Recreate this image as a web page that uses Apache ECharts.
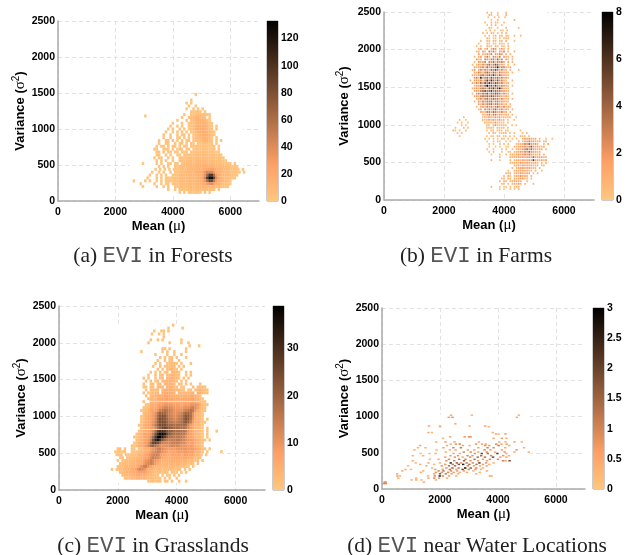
<!DOCTYPE html>
<html><head><meta charset="utf-8">
<script src="https://cdn.jsdelivr.net/npm/echarts@6/dist/echarts.min.js"></script>
<style>html,body{margin:0;padding:0;background:#fff}#c{width:632px;height:555px}</style>
</head><body><div id="c"></div>
<script>
// Each row: [variance, first mean, count, count, ...] with a fixed mean step.
const forestStep = 80;
const forestRows = [
[1480,4800,2],[1400,4640,2],[1360,4480,2,0,2],[1320,4560,3,0,0,2],[1280,4480,2,0,0,3,0,3,0,2],
[1240,4640,2,4,3,5,3,0,2],[1200,4400,2,0,0,2,4,6,8,8,7,6,4,2],
[1180,3040,1],
[1160,4320,2,0,0,2,6,10,12,12,11,8,4,0,2],
[1120,4160,2,0,0,0,3,0,5,9,13,14,14,13,10,5,2],
[1080,4000,2,0,0,0,2,0,0,3,3,6,12,15,16,16,15,12,7,3],
[1040,3920,2,0,0,2,0,3,0,0,3,2,7,13,16,18,18,16,13,7,3,0,2],
[1000,3840,2,0,3,0,0,3,0,3,0,2,3,8,14,17,18,18,16,13,7,2,0,2],
[960,3760,2,0,0,2,0,3,0,4,0,3,0,3,2,9,15,17,18,17,15,11,5,2],
[920,3680,2,0,0,2,0,0,3,0,2,3,0,3,0,2,3,9,14,16,17,15,12,5,2],
[880,3680,3,0,0,3,0,0,3,3,0,4,0,3,0,2,4,8,13,15,15,13,8,3,0,2],
[840,3520,2,0,0,3,3,0,4,0,2,0,3,0,3,4,0,2,3,3,7,11,13,12,9,4,0,3,0,3],
[800,3520,2,0,0,4,3,0,0,4,0,2,3,0,3,0,4,3,0,2,4,6,8,7,5,3,0,3],
[760,3440,2,0,3,4,0,4,0,5,3,0,4,0,4,3,0,2,4,3,3,4,4,3,3,3,4,3,0,2],
[720,3360,3,2,0,0,4,3,4,0,3,0,3,4,2,0,3,4,0,3,4,5,5,6,5,4,4,3,3,0,2],
[680,3440,3,4,0,4,0,4,3,0,3,3,0,3,2,4,0,5,5,6,6,7,7,7,6,5,4,3,2,2],
[640,3440,2,3,0,0,4,0,3,0,0,2,3,0,4,5,5,6,6,7,8,8,8,8,7,7,6,5,4,3,2],
[600,3360,2,0,2,3,0,0,3,0,2,0,0,3,4,5,6,7,7,8,8,9,9,9,9,8,8,7,6,5,4,3,2],
[560,3440,3,0,2,0,3,0,0,3,0,0,4,5,6,7,8,8,9,9,10,10,10,10,9,9,8,8,7,6,5,3,2],
[520,2960,1,0,0,0,0,0,2,0,3,0,0,2,3,0,2,4,0,5,6,7,8,9,9,10,11,12,12,12,11,11,10,9,8,7,6,5,4,3,2,0,2],
[480,3520,2,0,3,0,2,0,0,3,4,6,7,8,9,10,11,12,13,14,15,16,16,16,16,15,13,12,11,10,9,8,6,5,4,3,2],
[440,3400,2,0,2,0,3,0,2,0,3,3,3,5,7,8,9,10,11,12,13,14,16,18,22,24,26,24,20,16,13,11,10,8,7,5,4,3,2,0,2],
[400,3280,2,0,0,2,0,2,0,0,3,0,3,4,5,8,9,10,11,12,13,15,18,20,24,34,44,46,44,32,22,16,13,11,10,8,6,5,4,3,2,0,2],
[360,3200,2,0,0,2,0,3,0,2,0,0,3,4,6,8,9,10,10,11,11,12,12,14,16,22,36,66,100,100,62,32,20,14,12,10,8,6,4,3,2],
[320,3120,2,0,0,0,2,0,2,0,3,2,3,3,5,7,9,10,10,11,11,11,12,12,15,18,26,46,96,133,128,90,40,22,15,11,8,6,4,3,2],
[280,2640,2,0,0,0,0,2,0,2,0,0,2,0,3,0,3,3,2,3,4,6,8,9,10,10,10,11,11,12,14,16,22,34,60,90,86,54,30,18,13,10,8,6,2],
[240,2880,1,0,0,0,0,0,2,0,0,2,0,2,3,0,3,4,4,6,7,8,9,9,10,10,11,12,13,16,22,30,38,38,28,20,14,10,7,5,3,2],
[200,2960,2,0,0,0,0,0,2,0,0,2,0,3,0,0,3,5,6,7,7,8,8,9,9,10,10,11,12,13,14,13,12,10,8,6,4,3,2,2],
[160,3840,2,0,0,2,0,3,3,4,5,5,6,7,7,8,8,8,9,8,7,5,3,0,2],
[120,4240,2,0,3,0,3,3,2,4,3,3,0,3,0,2]
];
const farmStep = 70;
const farmRows = [
[2490,3440,.5,0,1,0,0,.4,0,0,0,1],[2460,3510,1,.5,0,0,.4,0,0,0,1],[2430,3475,.4,0,0,1,0,.5,0,0,.4],[2395,3580,.5,0,0,1,0,0,0,0,0,0,0,1],
[2360,3370,.5,0,0,1,0,.4,.5,0,0,.6],[2325,3440,.4,0,.6,0,1,0,0,.5],[2290,3510,1,.4,0,0,.5,0,0,0,.6,0,0,0,0,0,.5],
[2255,3405,.4,0,1,0,.5,0,0,1,.4,0,.8],[2220,3300,.5,0,.4,0,1,.4,0,.6,0,.5,0,.7],[2185,3370,.4,0,.6,0,.4,1,0,.5,1,0,.6,.4,0,0,.7,0,0,.4],
[2150,3440,1,.4,0,.5,.3,0,.8,0,.5,1,.4],[2115,3230,.5,0,0,.4,.6,0,1,.5,0,.4,.7,0,1,0,0,0,.5],[2080,3160,.6,0,0,0,1,.4,0,.8,.5,0,1,.6,.4,0,.5],
[2045,3090,.8,0,.4,0,0,1,.5,.6,0,1,.5,0,.8,.4,0,.6],[2010,3160,1,2,0,.8,2,0,1,3,2,0,1,2,1,0,.8],
[1975,3090,1,1,0,2,.8,0,3,1.5,3,1,0,2,1,3,0,1,0,0,1],[1940,3160,2,0,1.5,.8,2,1,3,0,2,1,3,2,0,1.5,0,1],
[1905,3020,1,0,.8,2,0,1.5,3,1,0,3,2,1,3,0,2,1,.8,0,1],[1870,3090,2,.8,1.5,0,3,2,1,3,3,1,4,1.5,3,0,2,.8,0,1],
[1835,3020,.8,0,2,1,1.5,3,0,3,2,4,1,3,2,3,1.5,0,1.5,0,1],[1800,2950,1,0,.8,2,1,3,1.5,3,4,2,3,5,4,1.5,2,1,0,.8,0,0,1],
[1765,3020,2,1,1.5,2,3,1,4,2,3,3,4,7,2,3,3,1,.8,1.5],[1730,2950,.8,2,0,1.5,3,1,3,2,1.5,4,3,5,3,1.5,3,1,1.5,0,.8,0,0,0,1],
[1695,3020,1.5,1,3,2,1,3,4,3,2,4,3,1.5,3,2,1.5,1.5,.8,0,1],[1660,2950,.8,1.5,.8,2,3,4,2,3,4,3,6,3,2,4,2,1.5,1,.8],
[1625,3020,2,3,1,7,2,3,4,2,5,3,3,4,2,3,1.5,2,.8],[1590,2880,1,0,1.5,2,1.5,3,1,3,6,3,7,4,3,5,2,3,1.5,.8,0,0,1],
[1555,2950,1.5,.8,3,1,4,2,5,3,6,4,3,5,4,2,3,1,.8,1],[1520,3020,.8,2,1.5,3,2,4,8,4,5,3,6,3,2,3,2,1.5,.8,0,1],
[1485,2950,1,1.5,2,1,3,4,3,2,5,4,6,3,5,7,3,1.5,1.5,1],[1450,3020,1.5,2,1,3,4,5,3,4,6,3,4,3,3,2,2,1,.8],
[1415,2950,.8,0,2,3,2,4,3,5,2,4,3,5,4,3,1.5,3,1.5,.8,0,1],[1380,3020,1.5,2,1,3,4,3,4,3,5,4,3,3,2,1.5,.8,2,.8],
[1345,3090,1,1.5,3,1.5,3,4,2,3,4,3,3,1.5,3,1.5,.8,1,0,1],[1310,3020,.8,0,2,1,3,2,3,3,4,1.5,3,3,1.5,2,1.5,.8,1],
[1275,3160,2,1,3,1.5,3,3,4,1.5,3,3,1.5,2,.8,1.5,0,1],[1240,3090,.8,0,1.5,2,1,3,2,3,1.5,3,4,2,1.5,3,1,1.5,.8],
[1205,3160,1,2,0,3,1.5,3,1.5,3,4,1.5,2,3,1,2,.8,0,1],[1170,3230,1.5,1,.8,3,3,1.5,4,3,1.5,1.5,3,1,1.5,0,.8],
[1135,3300,1.5,.8,2,3,1,3,3,1,2,1.5,.8,1.5,.8,0,1],[1100,2660,.5,0,0,0,0,0,0,0,0,.5,1,.4,2,1,.7,2,1,2,.5,1,.6,.4,.7,0,0,.5],
[1065,2520,.6,0,0,.5,0,0,0,0,0,0,0,1,.4,.8,2,.5,2,.7,.8,2,.4,.7,0,.5,0,0,.6],
[1030,2450,.5,0,.6,0,0,.5,0,0,0,0,0,0,0,1,.4,.8,1,.4,2,.5,.8,.4,.6,0,.4],
[995,2590,.6,0,.5,0,0,0,0,0,0,0,0,0,.5,.8,0,.4,2,.7,.4,1,.5,.4,0,0,.6,0,.5],
[960,2380,.5,0,0,0,.5,0,.6,0,0,0,0,0,0,0,0,.5,.4,.7,.4,0,.8,.5,.4,.7,0,.5],
[925,2310,1,.5,0,.6,0,0,.5,0,0,0,0,0,0,0,0,0,.4,0,.5,.7,0,.4,.8,.5,0,.4,.5,0,0,0,0,0,.5],
[890,2450,.6,0,.5,0,0,0,0,0,0,0,0,0,0,0,0,.4,0,.7,.4,0,.5,.4,.8,.4,0,.5,0,.4,0,0,0,.7,0,.5],
[850,2520,.5,0,0,0,0,0,0,0,0,0,0,0,0,.5,0,.4,.5,0,.4,.8,0,.4,.5,0,.4,0,.5,0,0,.7,.5,.4,0,.5],
[815,3370,.5,0,.4,0,.4,0,.5,0,.8,.4,0,.5,0,.4,0,.4,0,0,1,2,1.5,2,1.5,1,1.5,0,.8,0,0,.5,0,0,.7],
[780,3440,.4,0,0,.5,0,.4,.5,0,0,.5,0,.4,0,0,0,1,0,1,2,2,3,1.5,2,1,.8,1,0,.8,1.5],
[745,3510,.5,0,.4,0,0,.5,0,.4,0,.5,0,0,0,.8,1,.8,1.5,3,2,4,2,1.5,2,.8,0,0,1,0,1.5],
[710,3510,.4,0,0,.5,0,.4,0,0,.5,.4,0,0,1,.8,1.5,1.5,2,3,2,3,5,2,1.5,1.5,.8,1,1.5],
[675,3440,.5,0,0,.5,0,0,0,.4,0,.5,0,0,.8,0,1,1.5,.8,2,3,4,2,4,2,1.5,.8,1.5,.8,0,1],
[640,3510,.4,0,.5,0,0,0,.5,0,0,.4,.5,0,.8,1.5,1.5,2,1.5,3,2,4,2,2,1.5,.8,1],
[605,3580,.5,0,0,0,.4,0,0,.5,0,.8,1.5,.8,1.5,2,1,2,3,2,3,2,1.5,1,.8,1.5,0,1],
[570,3860,1,0,0,0,0,1,.8,1.5,1,1.5,1.5,2,1.5,2,2,1.5,4,1.5,1.5,1.5,1.5,.8,1.5],
[530,3580,1,0,0,0,.5,0,0,0,0,1,0,.8,1.5,1.5,1,2,1.5,1.5,2,1.5,6,1.5,1.5,1,1.5,.8,2],
[495,4210,.8,1,1.5,1.5,.8,2,1.5,1.5,2,1.5,1,1.5,1.5,.8,0,1,0,1.5],
[460,4350,1,1.5,1.5,1,2,1.5,1.5,1,1.5,.8,.8,1,0,.8,1],
[425,4280,1,0,1,1.5,1.5,2,1,1.5,1.5,1,.8,1,0,1],
[390,4140,.8,0,0,1,1.5,1,1.5,2,1.5,1.5,1,.8,0,1,0,0,.8],
[355,4070,1,.8,1,0,1,1.5,1.5,2,1.5,1,1.5,1,0,.8,0,1],
[320,4000,1,0,1,.8,0,1,1.5,1.5,2,1,1.5,1,0,1],
[285,3930,.8,1,0,1,.8,0,1.5,1,1.5,1.5,2,1,.8,0,1],
[250,3860,1,0,1.5,1,0,.8,1,1.5,1.5,1,.8,0,0,.8],
[215,3930,.8,1,0,1,0,.8,1.5,1,2,.8,0,1,0,0,0,1],
[175,3580,1,0,0,0,.5,0,.4,.5,0,.5,0,.4,.8,.5],[145,3860,.5,0,.4,0,0,.5,0,.4,0,.7]
];
const grassStep = 80;
const grassRows = [
[2240,3880,1],[2200,3720,1,0,0,0,0,0,1],[2160,3240,1,0,0,1,1,0,1],[2120,3160,1,0,0,1,0,1],[2080,3560,1],
[2040,3120,1,0,0,1,0,1,0,0,0,0,0,0,0,1],[2000,3040,1,0,0,0,0,0,0,0,0,1,0,0,0,0,1,0,0,1],
[1960,4440,1,0,0,0,1],[1920,3520,1,1,0,1,0,0,0,0,0,0,1],[1880,2800,1,0,0,0,0,0,0,0,0,1,0,1,0,0,1,0,0,0,0,1],
[1840,3280,1,0,0,0,0,1,0,0,1,0,0,1],[1800,3440,1,0,1,0,1,2,0,1,0,0,0,1],[1760,3360,1,0,0,2,0,2,1,0,0,1],
[1720,3280,1,0,1,0,0,1,2,3,3,1,0,1,0,0,0,1],[1680,3200,1,0,0,2,0,1,2,2,3,2,0,1,0,1],
[1640,3360,2,0,1,0,2,3,4,2,1,0,1],[1600,3120,1,0,1,0,2,0,1,2,0,3,4,3,1,0,0,1,0,1],
[1560,3040,1,0,0,2,0,1,3,0,2,3,4,4,2,1,0,0,1,0,1],[1520,2880,1,0,1,0,0,2,0,2,3,0,3,4,5,4,3,1,0,1,0,1],
[1480,2960,1,0,2,0,1,3,0,3,3,4,5,4,3,2,0,1,0,1],[1440,2880,1,0,0,1,2,0,2,3,0,4,4,5,4,3,0,2,1,0,1,0,1,0,0,0,1],
[1400,2880,1,1,0,2,2,0,3,3,4,0,5,5,4,3,2,0,1,1,0,0,0,2,0,2,2,3,1],
[1360,2960,1,0,2,2,3,3,0,4,5,5,6,5,4,3,3,2,2,0,1,2,0,3,3,4,3,2,1],
[1320,2880,1,0,2,1,2,3,3,0,5,5,6,6,5,4,0,3,3,2,2,3,3,4,0,5,4,2,1,1],
[1280,2960,2,0,2,3,4,5,5,6,7,7,6,5,5,4,4,5,5,5,5,6,6,5,3,1],
[1240,3040,3,3,3,4,5,6,7,7,8,7,7,6,6,6,6,6,6,7,7,7,6,4,2,1],
[1200,2880,1,0,0,4,4,5,6,7,7,8,8,7,7,6,6,6,6,7,7,7,8,8,7,5,3,1,1],
[1160,2960,1,2,5,5,6,7,8,9,10,10,10,9,8,8,8,7,8,8,9,10,10,11,9,6,3,1,1],
[1120,2880,1,1,3,5,6,7,8,10,12,13,13,12,11,10,9,9,9,10,11,12,13,14,12,8,4,2,1],
[1080,2800,1,1,2,4,6,7,8,10,14,16,17,16,14,12,11,10,10,11,12,14,16,17,15,10,5,2,1,1],
[1040,2880,2,3,5,6,8,11,16,20,20,19,16,14,12,11,11,12,14,17,19,20,17,11,6,3,2,1],
[1000,2800,1,2,4,6,7,9,12,18,22,24,22,18,15,13,12,12,14,16,19,22,22,18,11,6,3,2,1],
[960,2800,1,2,4,6,7,9,13,19,24,24,22,19,16,14,13,13,15,17,20,23,22,17,10,6,3,2,1,0,1],
[920,2800,2,3,5,6,8,10,14,20,24,25,23,20,17,16,15,15,16,18,20,22,20,15,9,6,4,2,1,1],
[880,2720,1,2,4,6,7,8,11,16,20,24,25,24,21,20,19,18,18,18,19,19,18,14,9,6,4,3,2,1],
[840,2800,2,4,5,6,8,9,13,18,22,26,26,24,22,20,19,19,18,18,18,16,13,9,6,4,3,2,1,0,1],
[800,2720,1,3,5,6,7,9,12,19,26,30,31,28,24,22,20,19,18,18,18,17,15,11,8,6,4,3,2,1,0,1,0,0,0,1],
[760,2640,1,2,4,6,7,8,10,15,24,32,37,39,34,27,22,19,18,17,17,17,16,13,10,8,6,5,3,2,1,0,1],
[720,2560,1,1,2,4,6,7,9,12,19,29,37,39,35,28,22,18,17,16,16,16,16,14,11,9,7,6,4,3,2,1,0,1],
[680,2640,2,3,5,6,8,10,14,24,33,36,30,24,19,16,15,15,15,16,16,15,13,11,10,9,8,7,5,3,2,1,0,1],
[640,2560,1,2,4,5,7,8,11,18,26,28,24,19,15,13,13,13,14,15,15,14,13,12,10,9,8,8,6,4,2,1],
[600,2480,1,1,2,4,6,7,9,13,18,20,18,15,12,11,11,11,12,13,13,13,12,11,10,10,9,9,8,6,4,2,1],
[560,2000,1,1,0,1,0,0,1,1,0,1,2,3,5,6,8,10,12,14,14,12,10,9,9,9,9,10,10,11,10,10,10,9,9,8,6,4,2,1,0,1],
[520,1920,1,1,1,1,2,0,0,1,1,1,2,3,4,5,7,9,11,13,14,13,11,9,8,7,7,8,8,9,9,9,9,9,8,8,6,4,3,1,0,1,0,0,0,0,0,1],
[480,1960,1,1,2,0,1,1,1,2,2,3,4,5,6,8,10,12,14,14,12,9,7,6,6,6,7,7,7,7,7,8,8,7,7,5,4,2,1,0,1],
[440,2080,1,2,0,1,2,2,3,3,4,5,6,7,9,12,14,14,12,10,7,5,5,5,5,6,6,6,6,6,6,6,5,4,3,2,1],
[400,2000,1,0,1,2,2,3,3,3,4,5,6,8,10,12,14,12,10,8,5,4,4,4,5,5,5,5,5,5,5,4,3,3,2,1,1,0,1],
[360,2080,1,2,2,2,3,3,4,4,5,6,8,11,13,14,12,9,6,4,3,3,4,4,4,4,4,4,4,3,3,2,2,1,0,1],
[320,2000,1,2,2,3,3,4,4,4,5,7,11,14,14,11,8,5,4,3,3,3,3,3,3,3,3,3,2,2,1,1,1,0,1],
[280,1800,1,0,1,2,3,3,4,5,5,6,7,11,13,13,10,7,5,4,3,2,3,3,2,2,3,2,2,1,2,1,0,1,0,1],
[240,2080,2,3,3,4,5,5,6,7,8,9,8,7,6,4,3,2,2,2,1,2,1,0,2,1,1,0,1,0,1],
[200,2160,2,3,3,4,4,5,6,6,6,5,4,4,3,2,2,1,0,1,0,1,1,0,1,0,1],
[160,2240,1,2,2,3,3,4,4,4,4,3,3,3,2,2,1,1,0,1,0,1,0,0,1],
[120,3040,1,1,2,1,2,1,0,1,1,0,1,0,0,1,0,0,1]
];
// Each row: [variance, mean, count, mean, count, ...]
const waterRows = [
[1020,2380,.6,3100,.4,4720,.4],[990,2300,.7,2430,.9,4650,.5],[900,2530,.5],[870,1620,.6,2000,.4,3020,.4,3560,.6],[860,3680,.4,2000,.4],
[780,1600,.4,1720,.3,3820,.4],[760,4020,.4,3930,.5,4260,.7],[720,2350,.5,2850,.8,3060,.7,3000,.9],[700,2100,.3,3850,.4,4130,.6,4290,.4],
[650,1870,.4,2190,.7,2500,.6,3340,.4,4040,.5,4570,.6,4820,.4,4260,.4],[620,2550,.8,2680,1,2370,.4,3240,.8,3450,.6,3940,1,4120,.6,4300,.7,3580,.5],
[600,1310,.5,2240,.5,2790,.6,3020,.4,3560,.8,3700,.7,4390,.5,4020,1.2],[570,1240,.4,1500,.3,2120,.6,2460,1,2720,1.2,3320,.6,3640,1,3850,.9,4250,.5,4900,.4],
[540,1120,.4,1880,.4,2340,.5,2540,.6,2960,.6,3180,.5,3540,1,3740,.7,4130,.6,4640,.8],[510,2200,.4,2820,1,3060,.9,3320,.5,3610,.8,3900,.6,4230,.8,4570,.5,5060,.5],
[490,1330,.3,1640,.3,1850,.4,2470,.6,2680,.5,3200,.8,3440,2,3650,1.4,3980,2.1,4290,.5],[460,1060,.4,1420,.4,2360,.7,2620,.8,2950,1,3120,.8,3420,1.4,3760,1,4180,.8,4380,.4],
[440,2180,.6,2510,.8,2780,.6,3040,.9,3300,1.4,3550,1.3,3830,2,4080,.7,4290,.6],[410,1650,.3,1950,.5,2310,.9,2660,1.2,2880,1,3190,1.3,3480,.7,3720,.9,4000,1],
[390,1060,.4,2220,.8,2490,1,2830,1.6,3050,.8,3310,.7,3620,.6,4170,1,4400,1.8,4260,.7],[360,1160,.3,1600,.5,2000,.4,2370,2.5,2580,1.6,2720,.8,2920,1.2,3130,.9,3360,2.2,3590,.8,3850,.5],
[340,1320,.4,1800,.3,2180,.7,2440,1.2,2650,1.8,2800,2.6,3010,1.3,3260,1.2,3480,.7,3700,.4],[320,900,.3,1530,.4,2060,.8,2310,1.3,2520,1.4,2960,1,3170,.7,3380,.5,3610,.6],
[290,1730,.4,2220,.9,2430,1.6,2640,1.2,2870,2.8,3060,1.7,3250,1,3480,.4],[270,810,.4,1000,.3,1840,.7,2090,.7,2340,1.2,2560,.6,2780,2,2990,1,3220,.7,3410,.5],
[250,700,.5,1420,.4,1950,1,2120,1.3,2380,.9,2590,.7,2820,.7,3150,.4,3620,.5],[230,1340,.4,1860,.8,2060,.8,2280,1,2470,.7,2680,.4,2930,.5,3370,.4],
[210,520,.6,1800,.6,2000,1.6,2200,1.2,2400,.6,2620,.4,3250,.4],[180,530,.7,620,.4,1590,.4,1820,1,1990,2.6,2100,1,2310,.7,3720,.6,3780,.4,2560,.4],
[150,560,.4,1180,.4,1600,.5,1800,1,1970,.8,2240,.5],[125,1020,.4,1180,.5,1360,.4,1860,.4],[95,90,.9,130,.8,1440,.5],[75,60,.9,130,1]
];
const meanTicks = {min:0, max:7000, interval:2000};
const varianceTicks = {min:0, max:2500, interval:500};
const colorMax = {a:133, b:8, c:39, d:3};
const colorTicks = {a:20, b:2, c:10, d:0.5};
const captions = ['(a) |EVI| in Forests','(b) |EVI| in Farms','(c) |EVI| in Grasslands','(d) |EVI| near Water Locations'];
const emptyAreas = [[2500,100,6450,1480],[2250,100,5450,2500],[1740,100,5570,2260],[40,20,5100,1030]];
const paleLines = {c:[[2800,830,5000],[3100,1205,4800]]};

const bold = 'Liberation Sans';
const copper = ['#ffc77f','#ffa065','#bf784c','#7f5033','#402819','#000000'];
const panels = [
 {k:'a',pts:expand(forestRows,forestStep),cell:[2.5,3],g:[58,21,201,180],cb:[267,21,11,180],cap:[153,245],mask:emptyAreas[0],gap:28},
 {k:'b',pts:expand(farmRows,farmStep),cell:[1.6,1.9],g:[384,12,210,188],cb:[602,12,11,188],cap:[476,245],mask:emptyAreas[1],gap:30},
 {k:'c',pts:expand(grassRows,grassStep),cell:[2.5,3],g:[59,306,206,184],cb:[273,306,11,184],cap:[153,535],mask:emptyAreas[2],gap:28},
 {k:'d',pts:sparse(waterRows),cell:[2.4,1.5],g:[382,308,203,181],cb:[593,308,11,181],cap:[477,535],mask:emptyAreas[3],gap:28}
];
function expand(rows,step){const o=[];rows.forEach(r=>{for(let i=2;i<r.length;i++)if(r[i]>0)o.push([r[1]+(i-2)*step,r[0],r[i]]);});return o;}
function sparse(rows){const o=[];rows.forEach(r=>{for(let i=1;i<r.length;i+=2)o.push([r[i],r[0],r[i+1]]);});return o;}

const rich = {b:{fontFamily:bold,fontWeight:'bold',fontSize:13,color:'#000'},
 g:{fontFamily:'Liberation Serif',fontWeight:'normal',fontSize:15,color:'#000'},
 s:{fontFamily:bold,fontWeight:'normal',fontSize:10,color:'#000',verticalAlign:'bottom',padding:[0,0,9,0]}};
const tick = {fontFamily:bold,fontWeight:'bold',fontSize:10.5,color:'#000',formatter:v=>String(v)};
const axisLine = {show:true,onZero:false,lineStyle:{color:'#aaa',width:1.5}};
const split = {show:true,showMaxLine:false,lineStyle:{color:'#e2e2e2',type:[4,3],width:1}};
const opt = {animation:false,backgroundColor:'#fff',grid:[],xAxis:[],yAxis:[],series:[],visualMap:[],title:[]};
panels.forEach((p,i)=>{
 const m=colorMax[p.k];
 opt.grid.push({left:p.g[0],top:p.g[1],width:p.g[2],height:p.g[3]});
 opt.grid.push({left:p.cb[0],top:p.cb[1],width:p.cb[2],height:p.cb[3],show:true,borderColor:'#999',borderWidth:1,backgroundColor:'transparent'});
 opt.xAxis.push({type:'value',gridIndex:2*i,...meanTicks,name:'{b|Mean (}{g|μ}{b|)}',nameLocation:'middle',nameGap:18,nameMoveOverlap:false,
  nameTextStyle:{rich},axisLine,axisTick:{show:false},splitLine:split,
  axisLabel:{...tick,margin:6,showMaxLabel:false}});
 opt.yAxis.push({type:'value',gridIndex:2*i,...varianceTicks,name:'{b|Variance (}{g|σ}{s|2}{b|)}',nameLocation:'middle',nameGap:p.gap,nameMoveOverlap:false,
  nameTextStyle:{rich},axisLine,axisTick:{show:false},splitLine:{...split,showMaxLine:true},
  axisLabel:{...tick,margin:3}});
 opt.xAxis.push({type:'category',gridIndex:2*i+1,data:[''],show:false});
 opt.yAxis.push({type:'value',gridIndex:2*i+1,position:'right',min:0,max:m,interval:colorTicks[p.k],
  axisLine:{show:false},axisTick:{show:false},splitLine:{show:false},
  axisLabel:{...tick,margin:3,showMaxLabel:m%colorTicks[p.k]===0}});
 const idx=opt.series.length;
 opt.series.push({type:'scatter',xAxisIndex:2*i,yAxisIndex:2*i,data:[],z:1,silent:true,
  markArea:{silent:true,itemStyle:{color:'#fff'},data:[[{coord:[p.mask[0],p.mask[1]]},{coord:[p.mask[2],p.mask[3]]}]]}});
 opt.series.push({type:'scatter',xAxisIndex:2*i,yAxisIndex:2*i,data:p.pts,symbol:'rect',symbolSize:p.cell,z:3,silent:true,
  itemStyle:{opacity:1},large:false});
 opt.visualMap.push({show:false,type:'continuous',min:0,max:m,dimension:2,seriesIndex:idx+1,inRange:{color:copper}});
 opt.series.push({type:'bar',xAxisIndex:2*i+1,yAxisIndex:2*i+1,data:[m],barWidth:'100%',silent:true,z:3,
  itemStyle:{color:new echarts.graphic.LinearGradient(0,0,0,1,copper.slice().reverse().map((c,j)=>({offset:j/5,color:c})))}});
 if(paleLines[p.k]) opt.series.push({type:'scatter',xAxisIndex:2*i,yAxisIndex:2*i,data:[],z:4,silent:true,
  markLine:{silent:true,symbol:'none',label:{show:false},lineStyle:{color:'rgba(255,236,220,0.75)',width:1,type:'solid'},
   data:paleLines[p.k].map(l=>[{coord:[l[0],l[1]]},{coord:[l[2],l[1]]}])}});
 const parts=captions[i].split('|');
 opt.title.push({left:p.cap[0],top:p.cap[1],textAlign:'center',padding:0,
  text:'{t|'+parts[0]+'}{m|'+parts[1]+'}{t|'+parts[2]+'}',
  textStyle:{rich:{t:{fontFamily:'Liberation Serif',fontWeight:'normal',fontSize:21.5,color:'#222'},m:{fontFamily:'Liberation Mono',fontWeight:'normal',fontSize:22.5,color:'#555'}}}});
});
echarts.init(document.getElementById('c'),null,{renderer:'canvas'}).setOption(opt);
</script></body></html>
